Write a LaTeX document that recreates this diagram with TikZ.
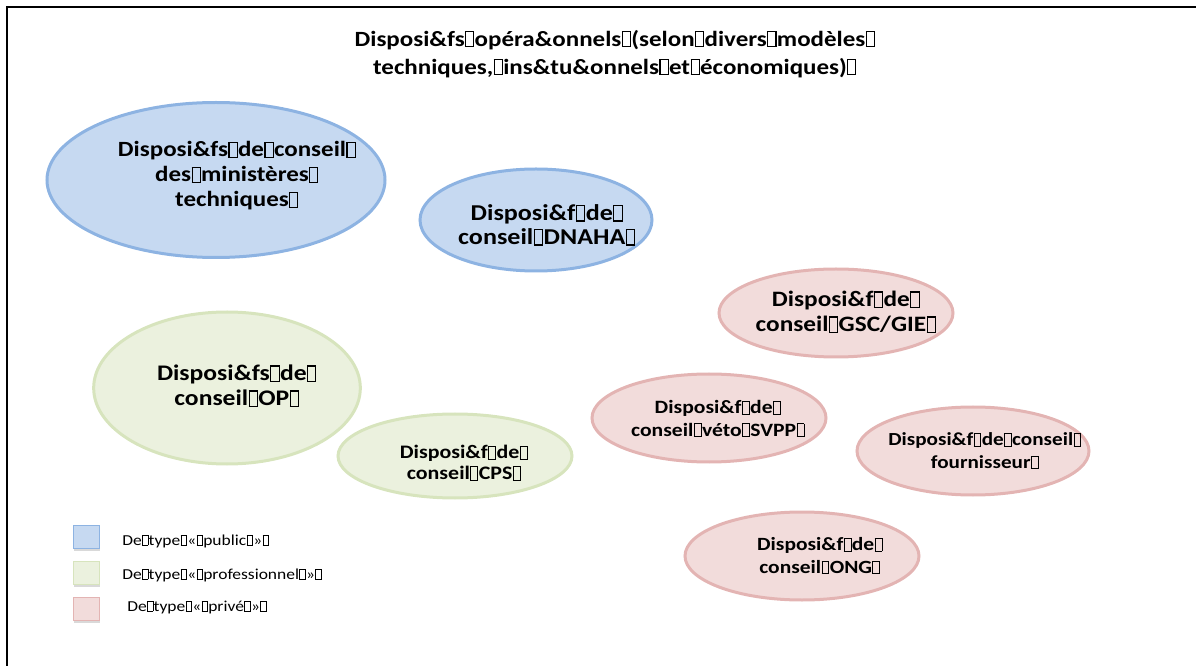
\documentclass[tikz,border=0pt]{standalone}
\usepackage{fontspec}
\setmainfont{Carlito}[FakeStretch=1.15]
\usetikzlibrary{shapes.geometric,shadows}

\definecolor{pubfill}{HTML}{C6D9F1}
\definecolor{publine}{HTML}{8DB3E2}
\definecolor{profill}{HTML}{EBF1DE}
\definecolor{proline}{HTML}{D7E4BD}
\definecolor{privfill}{HTML}{F2DCDB}
\definecolor{privline}{HTML}{E3B4B3}

% glyph box
\newcommand\gl{\kern.02em{\setlength\fboxsep{0pt}\setlength\fboxrule{.05em}\fbox{\rule{0pt}{.64em}\hspace{.32em}}}\kern.02em}

\begin{document}
\begin{tikzpicture}[x=0.75pt,y=-0.75pt,
		every node/.style={align=center,inner sep=0pt},
		bubble/.style={ellipse,line width=2.25pt},
		pubbubble/.style={bubble,draw=publine,fill=pubfill},
		probubble/.style={bubble,draw=proline,fill=profill},
		privbubble/.style={bubble,draw=privline,fill=privfill},
		bigtext/.style={font=\bfseries\fontsize{16.5}{18.75}\selectfont},
		smalltext/.style={font=\bfseries\fontsize{14.1}{17}\selectfont},
		legbox/.style={minimum width=19.5pt,minimum height=17.25pt,line width=.75pt,
			drop shadow={shadow xshift=.75pt,shadow yshift=-1.5pt,opacity=.3}},
		legtext/.style={anchor=west,font=\fontsize{11.4}{13}\selectfont}]

		\useasboundingbox (0,0) rectangle (1196,666);
		\coordinate (fbl) at (7,666);
		\coordinate (ftl) at (7,7);
		\coordinate (ftr) at (1196,7);
		\draw[line width=1.5pt] (fbl) -- (ftl) -- (ftr);

		\node[font=\bfseries\fontsize{16.3}{21}\selectfont] (title) at (615,54)
			{Disposi\&fs\gl opéra\&onnels\gl (selon\gl divers\gl modèles\gl\\techniques,\gl ins\&tu\&onnels\gl et\gl économiques)\gl};

		% public
		\node[pubbubble,minimum width=253.5pt,minimum height=116.25pt] (mintech) at (216,180) {};
		\node[bigtext,font=\bfseries\fontsize{16.3}{18.75}\selectfont] (mintechtxt) at (237,176) {Disposi\&fs\gl de\gl conseil\gl\\des\gl ministères\gl\\techniques\gl};
		\node[pubbubble,minimum width=174pt,minimum height=76.5pt] (dnaha) at (536,220) {};
		\node[bigtext,font=\bfseries\fontsize{17}{18}\selectfont] (dnahatxt) at (547,225) {Disposi\&f\gl de\gl\\conseil\gl DNAHA\gl};

		% professionnel
		\node[probubble,minimum width=200pt,minimum height=114pt] (op) at (227,388) {};
		\node[bigtext,font=\bfseries\fontsize{16.7}{18.75}\selectfont] (optxt) at (237,386) {Disposi\&fs\gl de\gl\\conseil\gl OP\gl};
		\node[probubble,minimum width=175.5pt,minimum height=63pt] (cps) at (455,456) {};
		\node[smalltext,font=\bfseries\fontsize{14.3}{15.5}\selectfont] (cpstxt) at (464,463) {Disposi\&f\gl de\gl\\conseil\gl CPS\gl};

		% prive
		\node[privbubble,minimum width=175.5pt,minimum height=66pt] (gsc) at (836,313) {};
		\node[bigtext] (gsctxt) at (846,312) {Disposi\&f\gl de\gl\\conseil\gl GSC/GIE\gl};
		\node[privbubble,minimum width=175.5pt,minimum height=66pt] (veto) at (709,418) {};
		\node[smalltext] (vetotxt) at (718,419) {Disposi\&f\gl de\gl\\conseil\gl véto\gl SVPP\gl};
		\node[privbubble,minimum width=174pt,minimum height=66pt] (fourn) at (973,451) {};
		\node[smalltext,font=\bfseries\fontsize{13.8}{17}\selectfont] (fourntxt) at (985,451) {Disposi\&f\gl de\gl conseil\gl\\fournisseur\gl};
		\node[privbubble,minimum width=175.5pt,minimum height=66pt] (ong) at (802,556) {};
		\node[smalltext,font=\bfseries\fontsize{14}{17}\selectfont] (ongtxt) at (820,556) {Disposi\&f\gl de\gl\\conseil\gl ONG\gl};

		% legende
		\node[legbox,draw=publine,fill=pubfill] (legpub) at (86,537) {};
		\node[legtext] (legpubtxt) at (122,541) {De\gl type\gl «\gl public\gl »\gl};
		\node[legbox,draw=proline,fill=profill] (legpro) at (86,573) {};
		\node[legtext] (legprotxt) at (122,575) {De\gl type\gl «\gl professionnel\gl »\gl};
		\node[legbox,draw=privline,fill=privfill] (legpriv) at (86,609) {};
		\node[legtext] (legprivtxt) at (127,607) {De\gl type\gl «\gl privé\gl »\gl};
		\end{tikzpicture}
\end{document}
